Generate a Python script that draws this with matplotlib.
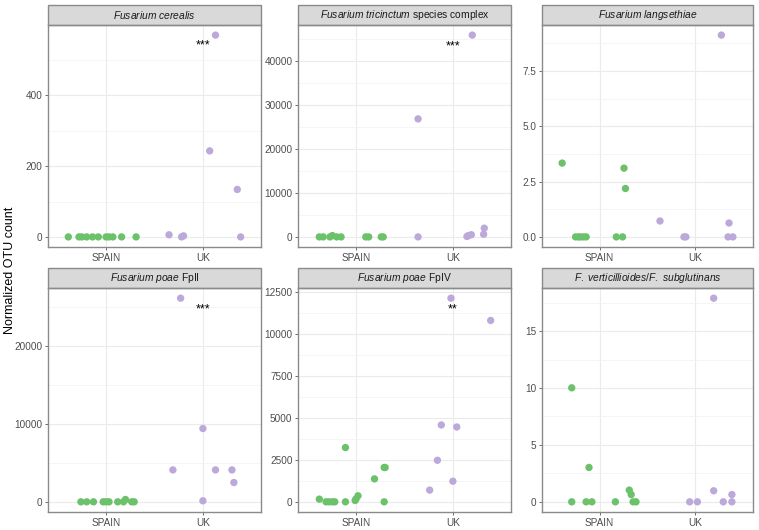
import numpy as np
import matplotlib
matplotlib.use('Agg')
import matplotlib.pyplot as plt
from matplotlib.patches import Rectangle

plt.rcParams['font.family'] = ['Liberation Sans', 'DejaVu Sans']
plt.rcParams['mathtext.fontset'] = 'custom'
plt.rcParams['mathtext.it'] = 'Liberation Sans:italic'
plt.rcParams['mathtext.rm'] = 'Liberation Sans'

groups = ['SPAIN', 'UK']
titles = [r'$\mathit{Fusarium\ cerealis}$',
          r'$\mathit{Fusarium\ tricinctum}$ species complex',
          r'$\mathit{Fusarium\ langsethiae}$',
          r'$\mathit{Fusarium\ poae}$ FpII',
          r'$\mathit{Fusarium\ poae}$ FpIV',
          r'$\mathit{F.\ verticillioides/F.\ subglutinans}$']

# jitter offsets and normalized counts
cer_spain_jit = [-0.39, -0.28, -0.25, -0.20, -0.14, -0.08, 0.0, 0.03, 0.07, 0.16, 0.31]
cer_spain = [0, 0, 0, 0, 0, 0, 0, 0, 0, 0, 0]
cer_uk_jit = [-0.35, -0.22, -0.20, 0.07, 0.13, 0.355, 0.39]
cer_uk = [6, 0, 3, 243, 570, 134, 0]

tri_spain_jit = [-0.38, -0.34, -0.27, -0.245, -0.20, -0.155, 0.10, 0.13, 0.26, 0.28]
tri_spain = [0, 0, 0, 300, 0, 0, 0, 0, 0, 0]
tri_uk_jit = [-0.36, -0.36, 0.145, 0.16, 0.19, 0.20, 0.317, 0.324]
tri_uk = [26900, 0, 100, 300, 500, 46000, 600, 2000]

lan_spain_jit = [-0.39, -0.25, -0.22, -0.20, -0.17, -0.14, 0.175, 0.24, 0.255, 0.27]
lan_spain = [3.34, 0, 0, 0, 0, 0, 0, 0, 3.11, 2.19]
lan_uk_jit = [-0.37, -0.12, -0.10, 0.27, 0.35, 0.34, 0.39]
lan_uk = [0.72, 0, 0, 9.13, 0.63, 0, 0]

fp2_spain_jit = [-0.26, -0.20, -0.13, -0.03, 0.0, 0.03, 0.12, 0.18, 0.20, 0.265, 0.29]
fp2_spain = [0, 0, 0, 0, 0, 0, 0, 0, 300, 0, 0]
fp2_uk_jit = [-0.31, -0.23, 0.0, 0.0, 0.13, 0.30, 0.32]
fp2_uk = [4100, 26170, 9420, 130, 4100, 4100, 2480]

fp4_spain_jit = [-0.38, -0.31, -0.28, -0.245, -0.22, -0.11, -0.11, -0.01, 0.0, 0.02, 0.19, 0.29, 0.30, 0.29]
fp4_spain = [160, 0, 0, 0, 0, 3240, 0, 80, 180, 360, 1370, 2050, 2050, 0]
fp4_uk_jit = [-0.24, -0.16, -0.12, 0.0, 0.04, -0.02, 0.39]
fp4_uk = [700, 2480, 4590, 1230, 4470, 12160, 10830]

ver_spain_jit = [-0.29, -0.29, -0.14, -0.11, -0.08, 0.165, 0.31, 0.33, 0.35, 0.38]
ver_spain = [10.02, 0, 0, 3.02, 0, 0, 1.03, 0.64, 0, 0]
ver_uk_jit = [-0.06, 0.02, 0.19, 0.19, 0.29, 0.38, 0.38]
ver_uk = [0, 0, 17.9, 0.97, 0, 0.64, 0]

yticks = [[0, 200, 400],
          [0, 10000, 20000, 30000, 40000],
          [0.0, 2.5, 5.0, 7.5],
          [0, 10000, 20000],
          [0, 2500, 5000, 7500, 10000, 12500],
          [0, 5, 10, 15]]

# significance stars: (panel, label, y)
stars = [(0, '***', 540), (1, '***', 43500), (3, '***', 24700), (4, '**', 11500)]

panels = [(cer_spain_jit, cer_spain, cer_uk_jit, cer_uk),
          (tri_spain_jit, tri_spain, tri_uk_jit, tri_uk),
          (lan_spain_jit, lan_spain, lan_uk_jit, lan_uk),
          (fp2_spain_jit, fp2_spain, fp2_uk_jit, fp2_uk),
          (fp4_spain_jit, fp4_spain, fp4_uk_jit, fp4_uk),
          (ver_spain_jit, ver_spain, ver_uk_jit, ver_uk)]

green = '#6cc16b'
purple = '#bca9d9'
border = '#8a8a8a'
W, H = 759, 530

fig = plt.figure(figsize=(7.59, 5.30), dpi=100)

lefts = [48, 298, 542]
widths = [213, 213, 211]
tops = [25, 288]
heights = [222, 224]
strip_h = 20

axes = []
for i in range(6):
    r, c = divmod(i, 3)
    ax = fig.add_axes([lefts[c] / W, 1 - (tops[r] + heights[r]) / H,
                       widths[c] / W, heights[r] / H])
    axes.append(ax)
    sx, sy, ux, uy = panels[i]
    ax.scatter(1 + np.array(sx), sy, s=28, color=green, edgecolors='none', zorder=3)
    ax.scatter(2 + np.array(ux), uy, s=28, color=purple, edgecolors='none', zorder=3)

    ax.set_xticks([1, 2])
    ax.set_xticklabels(groups)
    ax.set_yticks(yticks[i])
    if i == 2:
        ax.set_yticklabels(['%.1f' % t for t in yticks[i]])
    else:
        ax.set_yticklabels(['%d' % t for t in yticks[i]])
    yt = yticks[i]
    step = yt[1] - yt[0]
    minors = [t + step / 2 for t in [yt[0] - step] + list(yt)]
    ax.set_yticks(minors, minor=True)

    # ggplot-style 5% expansion, set after the ticks so they don't widen it
    allv = np.array(list(sy) + list(uy))
    lo, hi = allv.min(), allv.max()
    pad = (hi - lo) * 0.05
    ax.set_ylim(lo - pad, hi + pad)
    ax.set_xlim(0.4, 2.6)

    ax.tick_params(which='minor', length=0)
    ax.tick_params(which='major', length=2.5, width=0.6, color='#555555',
                   labelsize=7.2, labelcolor='#4d4d4d', pad=1.5)
    ax.grid(True, which='major', color='#ebebeb', lw=0.8, zorder=0)
    ax.grid(True, which='minor', axis='y', color='#f2f2f2', lw=0.5, zorder=0)
    ax.set_axisbelow(True)
    for sp in ax.spines.values():
        sp.set_color(border)
        sp.set_linewidth(1.0)

    # facet strip
    sh = strip_h / heights[r]
    ax.add_patch(Rectangle((0, 1), 1, sh, transform=ax.transAxes, facecolor='#d9d9d9',
                           edgecolor=border, lw=1.0, clip_on=False))
    ax.text(0.5, 1 + sh / 2, titles[i], transform=ax.transAxes, ha='center', va='center',
            fontsize=7.4, color='#1a1a1a')

for p, lab, y in stars:
    axes[p].text(2, y, lab, ha='center', va='center', fontsize=9, color='black', zorder=4)

fig.text(0.013, 0.49, 'Normalized OTU count', rotation=90, ha='center', va='center',
         fontsize=9, color='black')

fig.savefig('out.png', dpi=100)
